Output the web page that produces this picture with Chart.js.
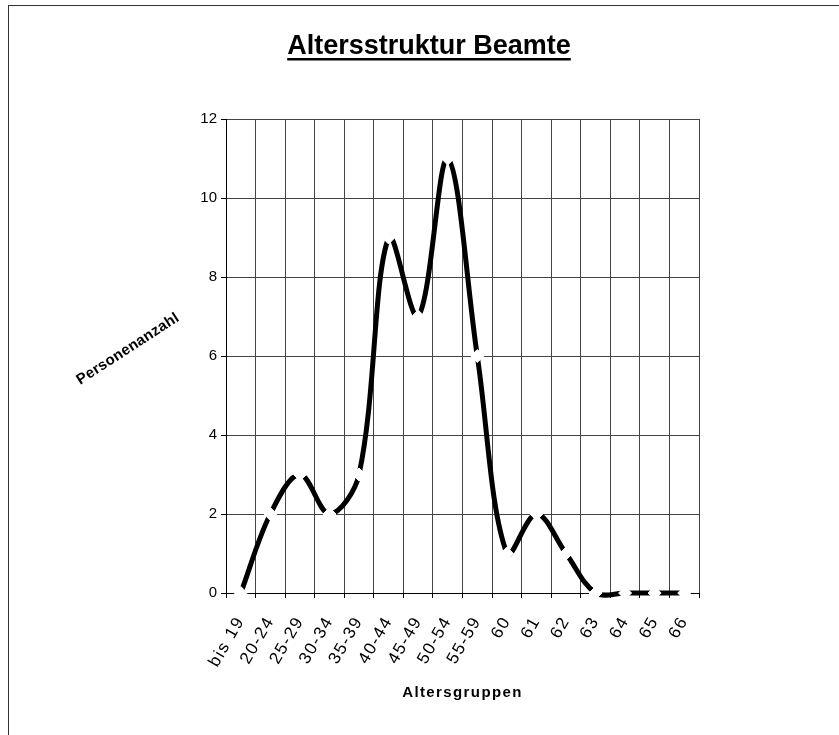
<!DOCTYPE html>
<html>
<head>
<meta charset="utf-8">
<script src="https://cdn.jsdelivr.net/npm/chart.js@4/dist/chart.umd.min.js"></script>
<style>
  html, body { margin: 0; padding: 0; background: #fff; }
  #wrap { width: 839px; height: 735px; }
</style>
</head>
<body>
<div id="wrap"><canvas id="c" width="839" height="735"></canvas></div>
<script>
// ---- data ----
const chartTitle = 'Altersstruktur Beamte';
const xTitle = 'Altersgruppen';
const yTitle = 'Personenanzahl';
const categories = ['bis 19','20-24','25-29','30-34','35-39','40-44','45-49','50-54','55-59','60','61','62','63','64','65','66'];
const personenanzahl = [0, 2, 3, 2, 3, 9, 7, 11, 6, 1, 2, 1, 0, 0, 0, 0];
const yMin = 0, yMax = 12, yStep = 2;

const FONT = '"Liberation Sans", Arial, sans-serif';

function patchSpacing(scale, tickSpacing, titleSpacing) {
  if (scale._spacingPatched) return;
  scale._spacingPatched = true;
  const origLabels = scale.drawLabels.bind(scale);
  scale.drawLabels = function (area) {
    const ctx = this.ctx; ctx.save();
    try { ctx.letterSpacing = tickSpacing + 'px'; } catch (e) {}
    origLabels(area); ctx.restore();
  };
  const origTitle = scale.drawTitle.bind(scale);
  scale.drawTitle = function () {
    const ctx = this.ctx; ctx.save();
    try { ctx.letterSpacing = titleSpacing + 'px'; } catch (e) {}
    origTitle(); ctx.restore();
  };
}

const decor = {
  id: 'decor',
  beforeDraw(chart) {
    const ctx = chart.ctx;
    ctx.save();
    ctx.fillStyle = '#fff';
    ctx.fillRect(0, 0, chart.width, chart.height);
    ctx.strokeStyle = '#333';
    ctx.lineWidth = 1;
    ctx.strokeRect(8.5, 5.5, 1000, 1000);
    ctx.restore();
  },
  afterDraw(chart) {
    const ctx = chart.ctx;
    ctx.save();
    // main title, underlined
    ctx.font = 'bold 27px ' + FONT;
    ctx.fillStyle = '#000';
    ctx.textAlign = 'center';
    ctx.textBaseline = 'alphabetic';
    const cx = 429, by = 54;
    ctx.fillText(chartTitle, cx, by);
    const w = ctx.measureText(chartTitle).width;
    ctx.fillRect(cx - w / 2, 58, w, 2.5);
    // rotated y axis title
    ctx.translate(128, 349);
    ctx.rotate(-33 * Math.PI / 180);
    ctx.font = 'bold 15px ' + FONT;
    try { ctx.letterSpacing = '0.3px'; } catch (e) {}
    ctx.textBaseline = 'middle';
    ctx.fillText(yTitle, 0, 0);
    ctx.restore();
  }
};

new Chart(document.getElementById('c'), {
  type: 'line',
  data: {
    labels: categories,
    datasets: [{
      data: personenanzahl,
      borderColor: '#000',
      borderWidth: 5,
      tension: 0.35,
      fill: false,
      clip: false,
      pointStyle: 'rectRot',
      pointRadius: 6.5,
      pointHoverRadius: 6.5,
      pointBackgroundColor: '#fff',
      pointBorderColor: '#fff',
      pointBorderWidth: 1
    }]
  },
  options: {
    responsive: false,
    devicePixelRatio: 1,
    animation: false,
    events: [],
    elements: { line: { capBezierPoints: false } },
    layout: { padding: { top: 119, right: 140, left: 0, bottom: 0 } },
    plugins: { legend: { display: false }, title: { display: false }, tooltip: { enabled: false } },
    scales: {
      x: {
        type: 'category',
        offset: true,
        grid: { offset: true, color: '#444', lineWidth: 1, tickLength: 5, tickColor: '#000', drawTicks: true },
        border: { color: '#000', width: 1 },
        ticks: {
          autoSkip: false, minRotation: 60, maxRotation: 60,
          color: '#000', font: { family: FONT, size: 17 }, padding: 15
        },
        title: {
          display: true, text: xTitle, color: '#000',
          font: { family: FONT, size: 15, weight: 'bold' },
          padding: { top: 4, bottom: 33 }
        },
        afterBuildTicks(scale) { patchSpacing(scale, 1.6, 1.4); },
        afterFit(scale) { scale.height = 142; }
      },
      y: {
        min: yMin, max: yMax,
        grid: { color: '#444', lineWidth: 1, tickLength: 5, tickColor: '#000' },
        border: { color: '#000', width: 1 },
        ticks: { stepSize: yStep, color: '#000', font: { family: FONT, size: 15 }, padding: 4 },
        afterFit(scale) { scale.width = 226; }
      }
    }
  },
  plugins: [decor]
});
</script>
</body>
</html>
